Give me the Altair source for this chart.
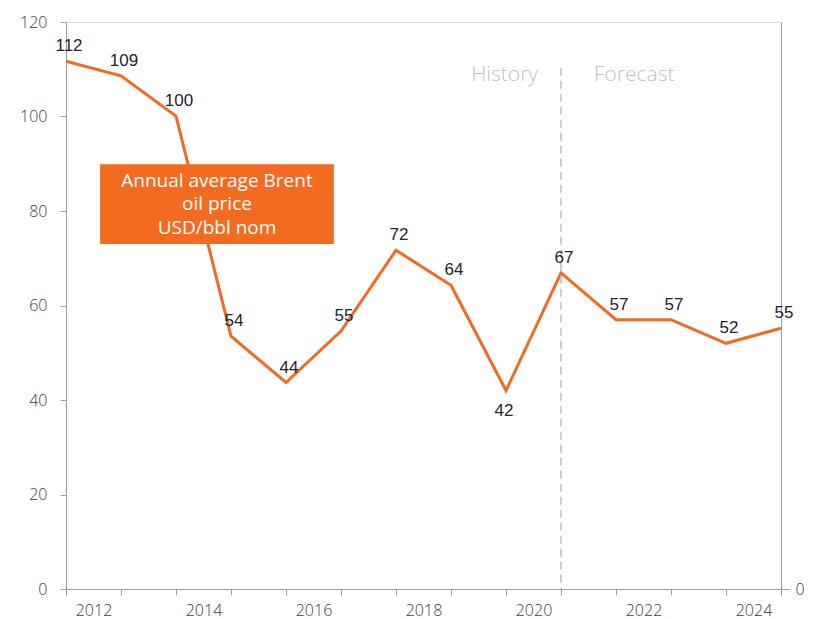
import altair as alt
import pandas as pd

# ---- data ----
years = [2012, 2013, 2014, 2015, 2016, 2017, 2018, 2019, 2020, 2021, 2022, 2023, 2024, 2025]
brent = [111.7, 108.6, 100.1, 53.5, 43.7, 54.6, 71.7, 64.3, 42.0, 66.9, 57.0, 57.0, 52.0, 55.2]
even_labels = [2012, 2014, 2016, 2018, 2020, 2022, 2024]
forecast_start = 2021
note_lines = ["Annual average Brent", "oil price", "USD/bbl nom"]

ORANGE = "#F26B21"
AXIS_GREY = "#9e9e9e"
LABEL_COL = "#3c3c3c"
DATA_LABEL_COL = "#1d2433"
AXIS_FONT = "Open Sans"

df = pd.DataFrame({"year": years, "value": brent})
df["label"] = df["value"].round(0).astype(int).astype(str)

x_scale = alt.Scale(domain=[2012, 2025], nice=False, zero=False)
y_scale = alt.Scale(domain=[0, 120], nice=False)

def X(field):
    return alt.X(field, type="quantitative", scale=x_scale, axis=None)

def Y(field):
    return alt.Y(field, type="quantitative", scale=y_scale, axis=None)

# ticks at each year, no labels
x_axis_ticks = alt.Axis(
    orient="bottom", values=years, labels=False, grid=False,
    domainColor=AXIS_GREY, tickColor=AXIS_GREY, tickSize=6, title=None,
    minExtent=6, maxExtent=6,
)
# labels centred between year ticks (Excel category style)
x_axis_labels = alt.Axis(
    orient="bottom",
    values=[v + 0.5 for v in even_labels],
    labelExpr="floor(datum.value)",
    ticks=False, domain=False, grid=False,
    labelPadding=13, labelFlush=False, labelOverlap=False,
    labelFont=AXIS_FONT, labelFontSize=16, labelFontWeight=300,
    labelColor=LABEL_COL, title=None,
)
y_axis = alt.Axis(
    values=[0, 20, 40, 60, 80, 100, 120],
    grid=False,
    domainColor=AXIS_GREY,
    tickColor=AXIS_GREY,
    tickSize=6,
    labelPadding=13,
    labelFont=AXIS_FONT,
    labelFontSize=16,
    labelFontWeight=300,
    labelColor=LABEL_COL,
    title=None,
)
y_axis_right = alt.Axis(
    orient="right",
    values=[0],
    grid=False,
    domainColor=AXIS_GREY,
    tickColor=AXIS_GREY,
    tickSize=8,
    labelPadding=6,
    labelFont=AXIS_FONT,
    labelFontSize=16,
    labelFontWeight=300,
    labelColor=LABEL_COL,
    title=None,
)

base = alt.Chart(df)

line = base.mark_line(color=ORANGE, strokeWidth=3).encode(
    x=alt.X("year:Q", scale=x_scale, axis=x_axis_ticks),
    y=alt.Y("value:Q", scale=y_scale, axis=y_axis),
)

axis_layer = base.mark_point(opacity=0).encode(
    x=alt.X("year:Q", scale=x_scale, axis=x_axis_labels),
    y=alt.Y("value:Q", scale=y_scale, axis=y_axis_right),
)

labels_above = base.transform_filter(alt.datum.year != 2020).mark_text(
    font="Liberation Sans", fontSize=17, color=DATA_LABEL_COL, dy=-15, dx=3
).encode(x=X("year"), y=Y("value"), text="label:N")

labels_below = base.transform_filter(alt.datum.year == 2020).mark_text(
    font="Liberation Sans", fontSize=17, color=DATA_LABEL_COL, dy=20, dx=-2
).encode(x=X("year"), y=Y("value"), text="label:N")

bound = pd.DataFrame({"year": [forecast_start], "top": [110.3], "bottom": [0]})
rule = alt.Chart(bound).mark_rule(color="#bdbdbd", strokeWidth=1.5, strokeDash=[8, 5]).encode(
    x=X("year"), y=Y("top"), y2="bottom:Q"
)

hist_txt = alt.Chart(pd.DataFrame({"year": [forecast_start], "y": [108.8], "t": ["History"]})).mark_text(
    font=AXIS_FONT, fontSize=21, fontWeight=300, color="#c2c2c2", align="right", dx=-23, baseline="middle"
).encode(x=X("year"), y=Y("y"), text="t:N")
fc_txt = alt.Chart(pd.DataFrame({"year": [forecast_start], "y": [108.8], "t": ["Forecast"]})).mark_text(
    font=AXIS_FONT, fontSize=21, fontWeight=300, color="#c2c2c2", align="left", dx=33, baseline="middle"
).encode(x=X("year"), y=Y("y"), text="t:N")

box = pd.DataFrame({"x1": [2012.62], "x2": [2016.87], "y1": [89.9], "y2": [73.0]})
note_box = alt.Chart(box).mark_rect(color=ORANGE).encode(
    x=X("x1"), x2="x2:Q", y=Y("y1"), y2="y2:Q"
)
note_df = pd.DataFrame({"xc": [2014.745] * 3, "yc": [86.4, 81.5, 76.5], "t": note_lines})
note_text = alt.Chart(note_df).mark_text(
    font=AXIS_FONT, fontSize=19, fontWeight=400, color="white", align="center", baseline="middle"
).encode(x=X("xc"), y=Y("yc"), text="t:N")

chart = alt.layer(
    line, axis_layer, rule, hist_txt, fc_txt, labels_above, labels_below, note_box, note_text
).resolve_axis(x="independent", y="independent").properties(
    width=715,
    height=567,
    autosize=alt.AutoSizeParams(type="none"),
    padding={"left": 58, "top": 14, "right": 29, "bottom": 30},
).configure_view(stroke=None).configure(background="white")

chart.save("out.html", embed_options={"renderer": "svg", "actions": False})
